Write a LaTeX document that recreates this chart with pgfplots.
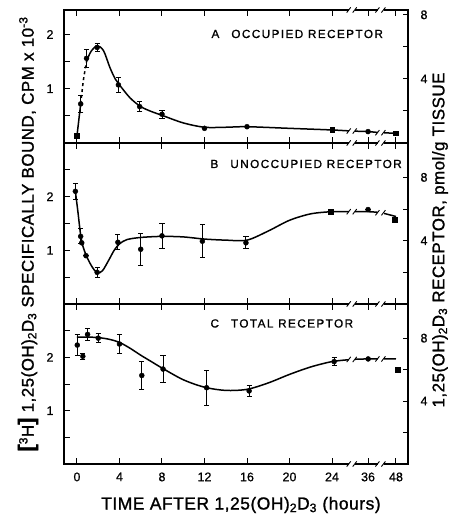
\documentclass[border=0pt]{standalone}
\usepackage{fontspec}
\setmainfont{Liberation Sans}[FakeBold=0.8]
\newfontfamily\panelfont[LetterSpace=12,FakeBold=1]{Liberation Sans}
\newfontfamily\labfont[LetterSpace=3,FakeBold=1.2]{Liberation Sans}
\usepackage{pgfplots}
\pgfplotsset{compat=1.18}

\pgfplotsset{
  panel/.style={
    width=344bp, scale only axis, xmin=-1.22, xmax=31.15,
    xtick={0,4,8,12,16,20,24,27.39,30.02},
    xtick pos=both, ytick pos=left, tick align=inside,
    major tick length=6bp,
    axis line style={line width=1.3bp},
    every tick/.style={black, line width=1bp},
    tick label style={font=\fontsize{12.5}{14}\selectfont},
    yticklabel style={xshift=-7bp},
    xticklabel style={yshift=-5bp},
    /pgf/number format/assume math mode=true,
  },
  rpanel/.style={
    width=344bp, scale only axis, xmin=-1.22, xmax=31.15, ymin=0,
    axis x line=none, axis y line*=right, tick align=inside,
    ytick={2,4,6,8}, yticklabels={,4,,8},
    major tick length=5bp,
    axis line style={line width=1.3bp},
    every tick/.style={black, line width=1bp},
    tick label style={font=\fontsize{12.5}{14}\selectfont},
    yticklabel style={xshift=9bp},
    /pgf/number format/assume math mode=true,
  },
  curve/.style={black, line width=1.5bp, smooth, tension=0.5, no marks},
  pts/.style={black, only marks, mark=*, mark size=2.5bp,
    error bars/.cd, y dir=both, y explicit,
    error bar style={line width=0.9bp},
    error mark options={rotate=90, mark size=2.6bp, line width=0.9bp}},
  sqs/.style={black, only marks, mark=square*, mark size=2.3bp},
}

% break mark "//" centred on a point
\newcommand{\brk}[1]{%
  \begin{scope}[shift={(#1)}]
  \fill[white] (-3bp,-2.6bp) rectangle (3bp,2.6bp);
  \draw[line width=0.9bp] (-5.5bp,-2.6bp) -- (-1.5bp,2.6bp);
  \draw[line width=0.9bp] (0.5bp,-2.6bp) -- (4.5bp,2.6bp);
  \end{scope}}

\begin{document}
\begin{tikzpicture}
\useasboundingbox (-64bp,-55bp) rectangle (393bp,464bp);

% ---- C: total receptor
\begin{axis}[panel, at={(0,0)}, height=160bp, ymin=0, ymax=3,
  ytick={0.5,1,1.5,2,2.5}, yticklabels={,1,,2,},
  xticklabels={0,4,8,12,16,20,24,36,48}]
\addplot[curve] coordinates {(0,2.38) (1,2.38) (2,2.37) (3,2.34) (4,2.28)
  (5,2.17) (6,2.04) (7,1.92) (8,1.8) (10,1.58) (12,1.44) (14,1.38) (16,1.40)
  (18,1.52) (20,1.68) (22,1.82) (24,1.92) (25.9,1.96) (27.39,1.97) (30.02,1.97)};
\addplot[pts] table[y error=e] {
x y e
0.03 2.23 0.19
0.55 2.02 0.06
1.0 2.43 0.11
2.0 2.36 0.09
4.0 2.25 0.18
6.1 1.66 0.27
8.1 1.78 0.26
12.2 1.43 0.33
16.2 1.37 0.10
24.2 1.92 0.07
27.4 1.97 0
};
\addplot[sqs] coordinates {(30.2,1.77)};
\coordinate (c1) at (axis cs:25.9,1.96);
\coordinate (c2) at (axis cs:28.6,1.97);
\end{axis}
\begin{axis}[rpanel, at={(0,0)}, height=160bp, ymax=10.17]
\addplot[draw=none] coordinates {(0,0)};
\end{axis}

% ---- B: unoccupied receptor
\begin{axis}[panel, at={(0,160bp)}, height=161bp, ymin=0, ymax=3,
  ytick={0.5,1,1.5,2,2.5}, yticklabels={,1,,2,}, xticklabels={}]
\addplot[curve] coordinates {(-0.15,2.10) (0.1,1.7) (0.35,1.28) (0.6,1.05)
  (1,0.85) (1.4,0.70) (1.9,0.58) (2.4,0.62) (3,0.82) (3.5,1.0) (4,1.12)
  (4.7,1.2) (6,1.24) (8,1.26) (10,1.25) (12,1.21) (14,1.19) (16,1.19)
  (18,1.36) (20,1.56) (22,1.68) (24,1.72) (25.9,1.72) (27.39,1.72)
  (28.6,1.70) (30.02,1.63)};
\addplot[pts] table[y error=e] {
x y e
-0.15 2.10 0.15
0.35 1.26 0.14
0.45 1.14 0
0.85 0.90 0
1.9 0.59 0.09
3.85 1.15 0.14
6.0 1.02 0.30
8.0 1.27 0.24
11.8 1.17 0.31
15.9 1.14 0.11
27.39 1.76 0
};
\addplot[sqs] coordinates {(23.9,1.72) (29.9,1.57)};
\coordinate (b1) at (axis cs:25.9,1.72);
\coordinate (b2) at (axis cs:28.6,1.70);
\end{axis}
\begin{axis}[rpanel, at={(0,160bp)}, height=161bp, ymax=10.17]
\addplot[draw=none] coordinates {(0,0)};
\end{axis}

% ---- A: occupied receptor
\begin{axis}[panel, at={(0,321bp)}, height=133bp, ymin=0, ymax=2.45,
  ytick={0.5,1,1.5,2}, yticklabels={,1,,2}, xticklabels={}]
\addplot[black, line width=1.5bp] coordinates {(0,0.13) (0.35,0.72)};
\addplot[black, line width=1.5bp, dashed, smooth] coordinates {(0.35,0.72) (0.6,1.15) (0.9,1.5)};
\addplot[curve] coordinates {(0.9,1.5) (1.3,1.68) (1.9,1.79) (2.5,1.7)
  (3.1,1.39) (3.6,1.18) (4,1.07) (5,0.83) (6,0.67) (7,0.58) (8,0.51)
  (10,0.37) (12,0.29) (14,0.29) (16,0.30) (20,0.27) (24,0.24) (25.9,0.22)
  (27.39,0.21) (28.6,0.19) (30.02,0.18)};
\addplot[pts] table[y error=e] {
x y e
0.35 0.72 0.15
0.9 1.56 0.17
1.9 1.76 0.07
3.9 1.07 0.14
5.9 0.67 0.09
8.0 0.53 0.07
12.0 0.27 0
16.0 0.30 0
27.39 0.21 0
};
\addplot[sqs] coordinates {(0,0.13) (24,0.24) (30.02,0.18)};
\coordinate (a1) at (axis cs:25.9,0.22);
\coordinate (a2) at (axis cs:28.6,0.19);
\end{axis}
\begin{axis}[rpanel, at={(0,321bp)}, height=133bp, ymax=8.3]
\addplot[draw=none] coordinates {(0,0)};
\end{axis}

% axis breaks
\foreach \yy in {0,160,321,454} {
  \brk{288.2bp,\yy bp}
  \brk{316.9bp,\yy bp}
}
\brk{a1} \brk{a2} \brk{b1} \brk{b2} \brk{c1} \brk{c2}

% panel titles
\node[anchor=base west, font=\panelfont\fontsize{11.8}{14}\selectfont] at (144bp,426bp)
  {A\hspace{12bp}OCCUPIED RECEPTOR};
\node[anchor=base west, font=\panelfont\fontsize{11.8}{14}\selectfont] at (143bp,296bp)
  {B\hspace{12bp}UNOCCUPIED RECEPTOR};
\node[anchor=base west, font=\panelfont\fontsize{11.8}{14}\selectfont] at (143bp,136.5bp)
  {C\hspace{12bp}TOTAL RECEPTOR};

% axis labels
\node[rotate=90, font=\labfont\fontsize{17}{20}\selectfont] at (-36bp,230bp)
  {{\bfseries\fontsize{22}{22}\selectfont[}\textsuperscript{3}H{\bfseries\fontsize{22}{22}\selectfont]}
   1,25(OH)\textsubscript{2}D\textsubscript{3} SPECIFICALLY BOUND, CPM x 10\textsuperscript{-3}};
\node[rotate=90, font=\labfont\fontsize{17}{20}\selectfont] at (376bp,224bp)
  {1,25(OH)\textsubscript{2}D\textsubscript{3} RECEPTOR, pmol/g TISSUE};
\node[font=\labfont\fontsize{17.5}{20}\selectfont] at (177bp,-41bp)
  {TIME AFTER 1,25(OH)\textsubscript{2}D\textsubscript{3} (hours)};
\end{tikzpicture}
\end{document}
